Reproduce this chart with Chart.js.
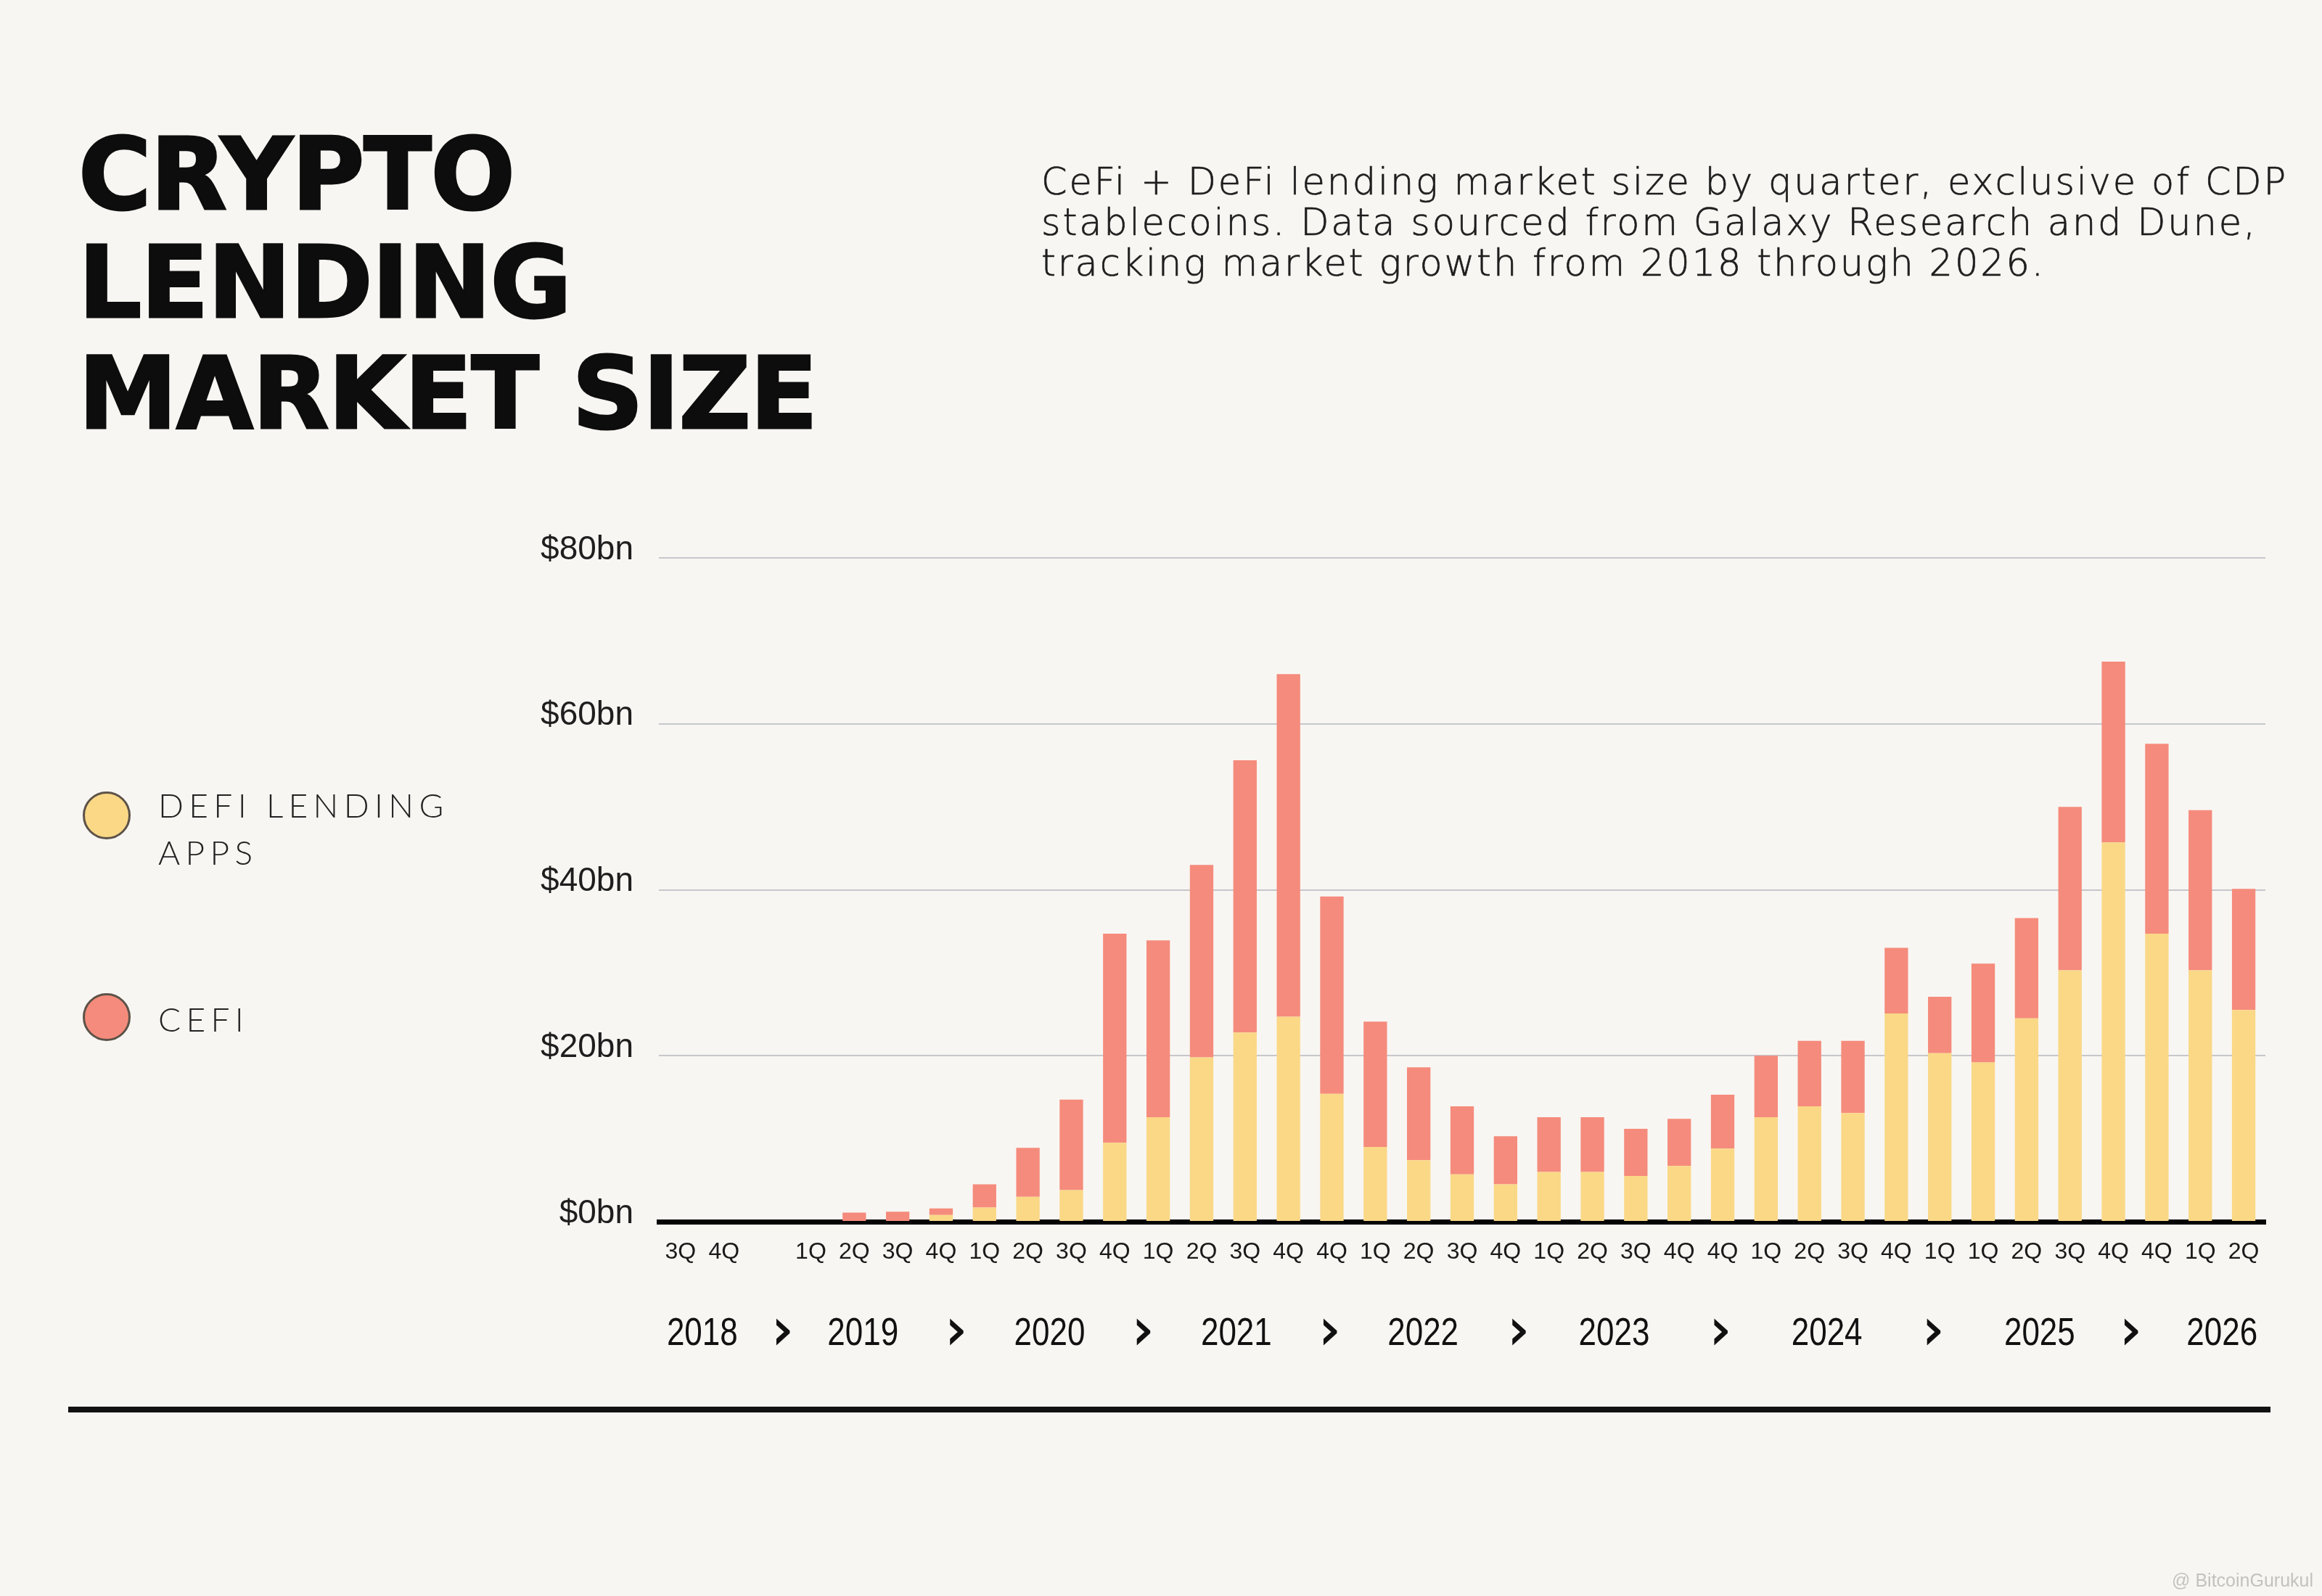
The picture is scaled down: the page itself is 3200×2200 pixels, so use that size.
<!DOCTYPE html>
<html>
<head>
<meta charset="utf-8">
<script src="https://cdn.jsdelivr.net/npm/chart.js@4.4.1/dist/chart.umd.min.js"></script>
<style>
  html, body { margin: 0; padding: 0; }
  body { width: 3200px; height: 2200px; background: #f8f6f2; position: relative; overflow: hidden; }
  #c { position: absolute; left: 0; top: 0; }
  .tline { position: absolute; left: 108px; font-family: "DejaVu Sans", sans-serif; font-weight: 700; font-size: 137px; line-height: 151px; color: #0d0d0d; white-space: nowrap; -webkit-text-stroke: 3px #0d0d0d; }
  .sline { position: absolute; left: 1435px; font-family: "DejaVu Sans", sans-serif; font-weight: 300; font-size: 51px; line-height: 56px; color: #1e1e1e; white-space: nowrap; -webkit-text-stroke: 0.7px #1e1e1e; }
  .leg { position: absolute; left: 114px; }
  .dot { position: absolute; width: 66px; height: 66px; border-radius: 50%; border: 3px solid #5c5248; box-sizing: border-box; }
  .ltxt { position: absolute; left: 104px; width: 460px; font-family: "Lato", sans-serif; font-weight: 300; font-size: 46px; line-height: 65px; letter-spacing: 0.16em; color: #222; text-transform: uppercase; }
  #rule { position: absolute; left: 94px; top: 1939px; width: 3035px; height: 8px; background: #111; }
  #wm { position: absolute; right: 12px; top: 2164px; font-family: "Liberation Sans", sans-serif; font-size: 25px; color: #c4c2be; }
</style>
</head>
<body>
<canvas id="c" width="3200" height="2200"></canvas>

<div class="tline" id="t1" style="top:165px">CRYPTO</div>
<div class="tline" id="t2" style="top:314px">LENDING</div>
<div class="tline" id="t3" style="top:467px">MARKET SIZE</div>

<div class="sline" id="s1" style="top:223px">CeFi + DeFi lending market size by quarter, exclusive of CDP</div>
<div class="sline" id="s2" style="top:279px">stablecoins. Data sourced from Galaxy Research and Dune,</div>
<div class="sline" id="s3" style="top:335px">tracking market growth from 2018 through 2026.</div>

<div id="legend"></div>
<div id="rule"></div>
<div id="wm">@ BitcoinGurukul</div>

<script>
// ---- Data ----
const quarters = ['3Q','4Q','','1Q','2Q','3Q','4Q','1Q','2Q','3Q','4Q','1Q','2Q','3Q','4Q','4Q','1Q','2Q','3Q','4Q','1Q','2Q','3Q','4Q','4Q','1Q','2Q','3Q','4Q','1Q','1Q','2Q','3Q','4Q','4Q','1Q','2Q'];
const defiLending = [0,0,0,0, 0,0,0.8, 1.7,3.0,3.8,9.5, 12.6,19.8,22.8,24.7, 15.4, 9.0,7.4,5.7,4.5, 6.0,6.0,5.5,6.7, 8.8, 12.6,13.9,13.1,25.1, 20.3,19.2,24.5,30.3,45.7,34.7, 30.3,25.5];
const cefi        = [0,0,0,0, 1.1,1.2,0.8, 2.8,5.9,10.9,25.2, 21.3,23.2,32.8,41.3, 23.8, 15.1,11.2,8.2,5.8, 6.6,6.6,5.7,5.7, 6.5, 7.4,7.9,8.7,7.9, 6.8,11.9,12.1,19.7,21.8,22.9, 19.3,14.6];
const seriesNames = ['DeFi lending apps', 'CeFi'];
const seriesColors = ['#fad886', '#f58b7c'];
const yTicks = [0, 20, 40, 60, 80];
const years = ['2018','2019','2020','2021','2022','2023','2024','2025','2026'];
const yearAt = [0.5, 4.2, 8.5, 12.8, 17.1, 21.5, 26.4, 31.3, 35.5]; // category-index position of each year label

// ---- Legend (HTML) ----
const legend = document.getElementById('legend');
const legendTops = [1091, 1369];
const legendTextTops = [-14, 3];
seriesNames.forEach((name, i) => {
  const d = document.createElement('div');
  d.className = 'leg';
  d.style.top = legendTops[i] + 'px';
  d.innerHTML = '<div class="dot" style="background:' + seriesColors[i] + '"></div>' +
                '<div class="ltxt" style="top:' + legendTextTops[i] + 'px">' + name + '</div>';
  legend.appendChild(d);
});

// fit helper: letter-spacing so the element reaches a given width
function spacingFor(el, target) {
  el.style.letterSpacing = '0px';
  const w = el.getBoundingClientRect().width;
  return (target - w) / el.textContent.length;
}
const ts = spacingFor(document.getElementById('t3'), 1018);
['t1','t2','t3'].forEach(id => document.getElementById(id).style.letterSpacing = ts + 'px');
const ss = spacingFor(document.getElementById('s1'), 1718);
['s1','s2','s3'].forEach(id => document.getElementById(id).style.letterSpacing = ss + 'px');

// ---- Year labels plugin ----
const yearPlugin = {
  id: 'years',
  afterDraw(chart) {
    const ctx = chart.ctx, x = chart.scales.x, yb = chart.chartArea.bottom;
    const px = yearAt.map(v => x.getPixelForValue(v));
    ctx.save();
    ctx.fillStyle = '#111';
    ctx.strokeStyle = '#111';
    ctx.textAlign = 'center';
    ctx.textBaseline = 'alphabetic';
    ctx.font = '53px "Liberation Sans", sans-serif';
    years.forEach((y, i) => {
      ctx.save();
      ctx.translate(px[i], yb + 170);
      ctx.scale(0.83, 1);
      ctx.fillText(y, 0, 0);
      ctx.restore();
    });
    ctx.font = '74px "DejaVu Sans", sans-serif';
    ctx.lineWidth = 1.5;
    for (let i = 0; i < px.length - 1; i++) {
      const cx = (px[i] + px[i + 1]) / 2;
      ctx.fillText('\u203A', cx, yb + 174);
      ctx.strokeText('\u203A', cx, yb + 174);
    }
    ctx.restore();
  }
};

new Chart(document.getElementById('c').getContext('2d'), {
  type: 'bar',
  data: {
    labels: quarters,
    datasets: [
      { label: seriesNames[0], data: defiLending, backgroundColor: seriesColors[0], stack: 's' },
      { label: seriesNames[1], data: cefi, backgroundColor: seriesColors[1], stack: 's' }
    ]
  },
  options: {
    responsive: false,
    animation: false,
    devicePixelRatio: 1,
    layout: { padding: { top: 769, right: 78, left: 0, bottom: 0 } },
    plugins: { legend: { display: false }, tooltip: { enabled: false } },
    datasets: { bar: { barPercentage: 0.54, categoryPercentage: 1.0 } },
    scales: {
      x: {
        stacked: true,
        grid: { display: false, drawTicks: false },
        border: { display: true, color: '#050505', width: 7 },
        ticks: { autoSkip: false, maxRotation: 0, color: '#1a1a1a', padding: 23,
                 font: { family: '"Liberation Sans", sans-serif', size: 32 } },
        afterFit(s) { s.height = 516; }
      },
      y: {
        stacked: true, min: 0, max: 80,
        afterBuildTicks(s) { s.ticks = yTicks.map(v => ({ value: v })); },
        grid: { color: '#c6c7cb', lineWidth: 2, drawTicks: false },
        border: { display: false },
        ticks: { color: '#1e1e1e', padding: 35, labelOffset: -11,
                 font: { family: '"Liberation Sans", sans-serif', size: 46 },
                 callback: v => '$' + v + 'bn' },
        afterFit(s) { s.width = 908; }
      }
    }
  },
  plugins: [yearPlugin]
});
</script>
</body>
</html>
